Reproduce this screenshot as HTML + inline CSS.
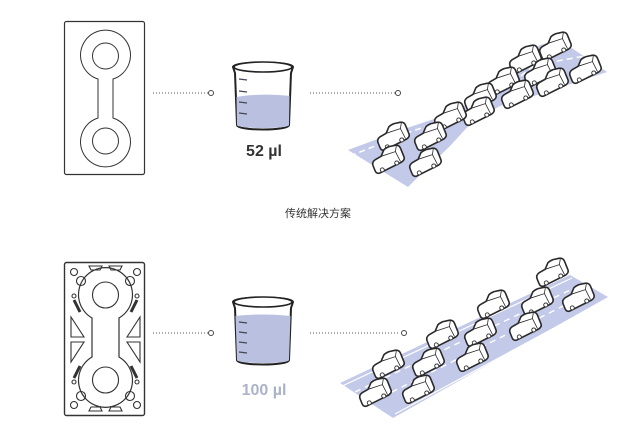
<!DOCTYPE html>
<html><head><meta charset="utf-8"><style>
html,body{margin:0;padding:0;background:#fff;width:636px;height:433px;overflow:hidden}
svg{display:block}
</style></head><body>
<svg width="636" height="433" viewBox="0 0 636 433" xmlns="http://www.w3.org/2000/svg">
<defs>
<g id="car">
 <g transform="rotate(-22)">
  <path d="M-16,5 L-16,0 Q-16,-4 -12,-5 L-5,-6 L0,-11 Q2,-12 6,-12 L12,-11 Q16,-10 16,-6 L16,3 Q16,6 12,7 L-12,9 Q-16,9 -16,5 Z" fill="#fff" stroke="#2a2a2a" stroke-width="1.6" stroke-linejoin="round"/>
  <path d="M-5,-6 L10,-5 L13,-10" fill="none" stroke="#2a2a2a" stroke-width="0.8"/>
  <path d="M10,-5 L11,6" fill="none" stroke="#2a2a2a" stroke-width="0.8"/>
  <circle cx="-9" cy="7" r="2" fill="#fff" stroke="#2a2a2a" stroke-width="0.9"/>
  <circle cx="7" cy="6" r="2" fill="#fff" stroke="#2a2a2a" stroke-width="0.9"/>
 </g>
</g>
<g id="beaker">
  <path d="M-30,-30 C-30,-36 30,-36 30,-30 L28,-24 L26,28 C26,34 -26,34 -26,28 L-28,-24 Z" fill="#fff" stroke="#222" stroke-width="2"/>
  <ellipse cx="0" cy="-30" rx="29" ry="5" fill="#fff" stroke="#222" stroke-width="1.6"/>
</g>
</defs>

<rect x="64.5" y="21.5" width="80" height="153" rx="2" fill="#fff" stroke="#333" stroke-width="1.2"/>
<path d="M98,79 A25,25 0 1 1 113,79 L113,118 A25,25 0 1 1 98,118 Z" fill="none" stroke="#333" stroke-width="1"/>
<circle cx="105.5" cy="56" r="13" fill="none" stroke="#333" stroke-width="1"/>
<circle cx="105.5" cy="141" r="13" fill="none" stroke="#333" stroke-width="1"/>

<line x1="153" y1="93" x2="208" y2="93" stroke="#555" stroke-width="1" stroke-dasharray="1,2"/>
<circle cx="211" cy="93" r="2.5" fill="#fff" stroke="#444" stroke-width="1"/>

<g transform="translate(263,97)">
  <use href="#beaker"/>
  <path d="M-26.5,0 C-10,-3 10,-3 26.5,-1 L26,28 C26,32 -26,32 -26,28 Z" fill="#b9c0e0"/>
  <g stroke="#445" stroke-width="1.3"><line x1="-24" y1="-18" x2="-16" y2="-17"/><line x1="-24" y1="-6" x2="-16" y2="-5"/><line x1="-24" y1="5" x2="-16" y2="6"/><line x1="-24" y1="16" x2="-16" y2="17"/></g>
</g>
<text x="264" y="156" text-anchor="middle" font-family="Liberation Sans, sans-serif" font-size="16" font-weight="bold" fill="#333">52 µl</text>

<line x1="310" y1="93" x2="395" y2="93" stroke="#555" stroke-width="1" stroke-dasharray="1,2"/>
<circle cx="398" cy="93" r="2.5" fill="#fff" stroke="#444" stroke-width="1"/>

<path d="M348,150 L407,128 L437,118 L468,104 L495,85 L540,45 L560,40 L607,72 L528,98 L500,106 L474,120 L450,146 L415,180 L408,187 Z" fill="#c3c9e8"/>
<path d="M350,156 L410,132 L450,118 L475,108 L500,92 L535,65 L585,56" fill="none" stroke="#fff" stroke-width="1.5" stroke-dasharray="6,4"/>

<use href="#car" x="555" y="47"/><use href="#car" x="525" y="60"/><use href="#car" x="585" y="70"/>
<use href="#car" x="540" y="73"/><use href="#car" x="552" y="83"/><use href="#car" x="503" y="82"/>
<use href="#car" x="517" y="95"/><use href="#car" x="480" y="98"/><use href="#car" x="478" y="112"/>
<use href="#car" x="450" y="117"/><use href="#car" x="430" y="137"/><use href="#car" x="393" y="137"/>
<use href="#car" x="425" y="163"/><use href="#car" x="388" y="160"/>

<text x="318" y="217" text-anchor="middle" font-family="Liberation Sans, Noto Sans CJK SC, sans-serif" font-size="11" fill="#333">传统解决方案</text>

<rect x="64.5" y="262.5" width="80" height="153" rx="2" fill="#fff" stroke="#333" stroke-width="1.4"/>
<path d="M92,318 A27,27 0 1 1 119,318 L119,357 A27,27 0 1 1 92,357 Z" fill="none" stroke="#333" stroke-width="1.2"/>
<circle cx="105.5" cy="295" r="13" fill="none" stroke="#333" stroke-width="1.1"/>
<circle cx="105.5" cy="380" r="13" fill="none" stroke="#333" stroke-width="1.1"/>
<g fill="none" stroke="#333" stroke-width="1.1">
  <circle cx="74" cy="272" r="3.5"/><circle cx="137" cy="272" r="3.5"/><circle cx="74" cy="405" r="3.5"/><circle cx="137" cy="405" r="3.5"/>
  <circle cx="81" cy="281" r="4.5"/><circle cx="130" cy="281" r="4.5"/><circle cx="81" cy="396" r="4.5"/><circle cx="130" cy="396" r="4.5"/>
  <path d="M89,266 L102,266 L100,270 L91,270 Z"/><path d="M109,266 L122,266 L120,270 L111,270 Z"/>
  <path d="M89,411 L102,411 L100,407 L91,407 Z"/><path d="M109,411 L122,411 L120,407 L111,407 Z"/>
  <path d="M71,317 L84,337 L71,337 Z"/><path d="M71,342 L84,342 L71,362 Z"/>
  <path d="M140,317 L127,337 L140,337 Z"/><path d="M140,342 L127,342 L140,362 Z"/>
  <path d="M74,300 L80,312" stroke-width="3"/><path d="M137,300 L131,312" stroke-width="3"/>
  <path d="M74,378 L80,366" stroke-width="3"/><path d="M137,378 L131,366" stroke-width="3"/>
  <circle cx="74" cy="296" r="2"/><circle cx="137" cy="296" r="2"/><circle cx="74" cy="382" r="2"/><circle cx="137" cy="382" r="2"/>
</g>

<line x1="153" y1="333" x2="208" y2="333" stroke="#555" stroke-width="1" stroke-dasharray="1,2"/>
<circle cx="211" cy="333" r="2.5" fill="#fff" stroke="#444" stroke-width="1"/>

<g transform="translate(263,332)">
  <use href="#beaker"/>
  <path d="M-27.5,-16 C-10,-18 10,-18 27.5,-16 L26,28 C26,32 -26,32 -26,28 Z" fill="#b9c0e0"/>
  <g stroke="#445" stroke-width="1.3"><line x1="-24" y1="-10" x2="-16" y2="-9"/><line x1="-24" y1="0" x2="-16" y2="1"/><line x1="-24" y1="10" x2="-16" y2="11"/><line x1="-24" y1="20" x2="-16" y2="21"/></g>
</g>
<text x="264" y="395" text-anchor="middle" font-family="Liberation Sans, sans-serif" font-size="16" font-weight="bold" fill="#aab3c8">100 µl</text>

<line x1="310" y1="333" x2="400" y2="333" stroke="#555" stroke-width="1" stroke-dasharray="1,2"/>
<circle cx="404" cy="333" r="2.5" fill="#fff" stroke="#444" stroke-width="1"/>

<path d="M340,383 L570,275 L608,297 L393,418 Z" fill="#c3c9e8"/>
<path d="M338,388 L572,278" stroke="#fff" stroke-width="1.2"/>
<path d="M395,414 L606,300" stroke="#fff" stroke-width="1.2"/>
<path d="M355,392 L585,283" stroke="#fff" stroke-width="1.4" stroke-dasharray="6,5"/>
<path d="M372,402 L595,290" stroke="#fff" stroke-width="1.4" stroke-dasharray="6,5"/>

<use href="#car" x="552" y="273"/><use href="#car" x="578" y="298"/><use href="#car" x="537" y="302"/>
<use href="#car" x="493" y="305"/><use href="#car" x="525" y="327"/><use href="#car" x="480" y="333"/>
<use href="#car" x="442" y="335"/><use href="#car" x="472" y="358"/><use href="#car" x="428" y="363"/>
<use href="#car" x="388" y="365"/><use href="#car" x="418" y="390"/><use href="#car" x="375" y="393"/>
</svg>
</body></html>
